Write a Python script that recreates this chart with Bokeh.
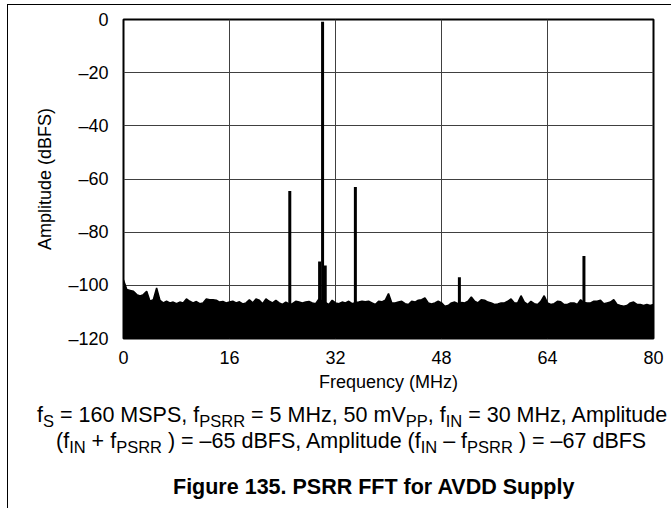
from bokeh.plotting import figure
from bokeh.models import Range1d, Label, Div, FixedTicker
from bokeh.layouts import column
from bokeh.embed import file_html
from bokeh.resources import INLINE

# ---- data ----
noise_step_mhz = 0.5
noise_db = [
    -98.0, -101.6, -101.9, -102.2, -103.5, -104.0, -103.5, -102.2, -106.0, -105.4,
    -101.0, -105.6, -106.6, -106.0, -106.6, -106.3, -106.9, -106.3, -106.6, -105.1,
    -106.0, -106.6, -106.1, -106.9, -106.6, -105.1, -105.4, -105.4, -105.6, -106.3,
    -106.1, -106.6, -106.3, -106.0, -106.6, -106.2, -107.0, -106.6, -105.4, -106.6,
    -105.1, -105.6, -106.9, -105.1, -106.0, -106.6, -105.6, -106.6, -107.2, -106.3,
    -107.0, -106.9, -106.0, -106.3, -106.6, -106.3, -106.1, -106.6, -106.9, -105.1,
    -106.0, -106.5, -107.2, -105.6, -106.6, -106.9, -106.3, -106.6, -106.0, -106.9,
    -106.5, -106.3, -106.0, -106.2, -106.0, -106.6, -107.2, -106.0, -106.2, -105.6,
    -103.1, -106.6, -106.6, -106.3, -106.0, -106.9, -107.2, -106.0, -106.3, -105.6,
    -105.4, -104.7, -106.6, -107.0, -106.6, -106.0, -106.6, -107.9, -107.6, -106.6,
    -106.3, -106.9, -106.5, -106.6, -106.0, -104.4, -106.0, -106.6, -105.4, -105.6,
    -106.3, -106.6, -107.2, -107.0, -106.6, -106.6, -106.0, -105.1, -106.6, -106.6,
    -103.9, -106.3, -107.2, -106.0, -106.9, -107.2, -106.0, -103.9, -106.6, -107.2,
    -106.9, -106.0, -106.2, -107.2, -107.2, -106.6, -106.6, -107.2, -105.4, -106.5,
    -106.6, -106.6, -106.0, -106.0, -105.6, -106.9, -106.6, -106.3, -105.4, -107.2,
    -107.6, -107.9, -107.6, -106.6, -106.3, -107.2, -107.2, -107.6, -107.2, -107.6,
    -107.2,
]
noise_mhz = [i * noise_step_mhz for i in range(len(noise_db))]

spur_mhz = [25.1, 29.6, 30.05, 30.45, 35.0, 50.7, 69.5]
spur_db = [-64.5, -91.0, -0.8, -92.5, -63.0, -97.0, -89.0]

x_ticks = [0, 16, 32, 48, 64, 80]
y_ticks = [-120, -100, -80, -60, -40, -20, 0]

FONT = "Liberation Sans"

p = figure(width=660, height=392, x_range=Range1d(0, 80), y_range=Range1d(-120, 0),
           output_backend="svg", toolbar_location=None,
           min_border_left=115, min_border_right=15, min_border_top=14, min_border_bottom=59)

p.varea(x=noise_mhz, y1=[-120] * len(noise_mhz), y2=noise_db, fill_color="black")
p.line(noise_mhz, noise_db, line_color="black", line_width=1.5)
p.segment(x0=spur_mhz, y0=[-120] * len(spur_mhz), x1=spur_mhz, y1=spur_db,
          line_color="black", line_width=3)

p.xaxis.ticker = FixedTicker(ticks=x_ticks)
p.yaxis.ticker = FixedTicker(ticks=y_ticks)
p.yaxis.major_label_overrides = {t: ("\u2013" + str(-t)) if t < 0 else str(t) for t in y_ticks}
for ax in (p.xaxis, p.yaxis):
    ax.axis_line_color = None
    ax.major_tick_line_color = None
    ax.minor_tick_line_color = None
    ax.major_label_text_font = FONT
    ax.major_label_text_font_size = "18px"
    ax.major_label_text_color = "black"
    ax.axis_label_text_font = FONT
    ax.axis_label_text_font_size = "18px"
    ax.axis_label_text_font_style = "normal"
    ax.axis_label_text_color = "black"
p.xaxis.axis_label = "Frequency (MHz)"
p.yaxis.axis_label = "Amplitude (dBFS)"
p.xaxis.major_label_standoff = 6
p.xaxis.axis_label_standoff = 5
p.yaxis.major_label_standoff = 9
p.yaxis.axis_label_standoff = 10

p.xgrid.ticker = FixedTicker(ticks=x_ticks)
p.ygrid.ticker = FixedTicker(ticks=y_ticks)
p.grid.grid_line_color = "#404040"
p.grid.grid_line_width = 1
p.grid.grid_line_alpha = 1.0
p.outline_line_color = "black"
p.outline_line_width = 2
p.outline_line_alpha = 1.0

p.add_layout(Label(x=80, y=-120, text="C042", text_font=FONT, text_font_size="9px",
                   text_align="right", text_baseline="middle", x_offset=15, y_offset=-52))

sub = '<span style="font-size:16.5px;vertical-align:-5px;line-height:0">%s</span>'
line1 = ("f" + sub % "S" + " = 160 MSPS, f" + sub % "PSRR" + " = 5 MHz, 50 mV" + sub % "PP"
         + ", f" + sub % "IN" + " = 30 MHz, Amplitude")
line2 = ("(f" + sub % "IN" + " + f" + sub % "PSRR" + " ) = \u201365 dBFS, Amplitude (f" + sub % "IN"
         + " \u2013 f" + sub % "PSRR" + " ) = \u201367 dBFS")
title = "Figure 135. PSRR FFT for AVDD Supply"
html = (
    '<div style="font-family:\'Liberation Sans\';font-size:21.5px;color:black;line-height:26px;white-space:nowrap">'
    '<div style="padding-left:24px">' + line1 + '</div>'
    '<div style="padding-left:43px">' + line2 + '</div>'
    '<div style="padding-left:160px;margin-top:20px;font-weight:bold">' + title + '</div>'
    '</div>'
)
div = Div(text=html, width=660, height=103)

layout = column(p, div, styles={"border-left": "1px solid black", "border-top": "1px solid black",
                                 "border-bottom": "1px solid black",
                                 "margin-left": "7px", "margin-top": "4px"})

open("out.html", "w").write(file_html(layout, INLINE))
